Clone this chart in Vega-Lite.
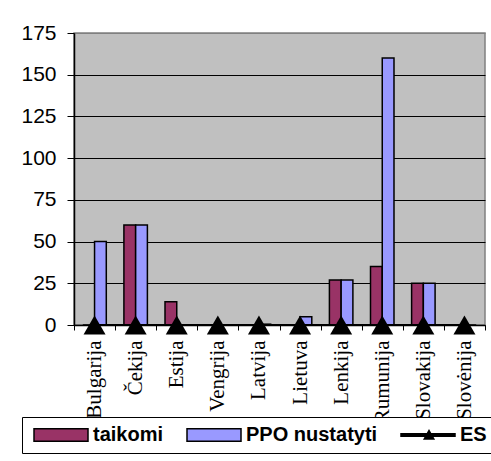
{
  "$schema": "https://vega.github.io/schema/vega-lite/v6.json",
  "width": 411,
  "height": 292,
  "autosize": "none",
  "padding": {"left": 74, "top": 33, "right": 6, "bottom": 136},
  "background": "white",
  "config": {
    "view": {"fill": "#C0C0C0", "stroke": "#808080", "strokeWidth": 1.5},
    "legend": {
      "orient": "none",
      "legendX": -52,
      "legendY": 384,
      "direction": "horizontal",
      "fillColor": "white",
      "strokeColor": "black",
      "padding": 8,
      "columnPadding": 19,
      "labelFont": "Liberation Sans",
      "labelFontSize": 20,
      "labelFontWeight": "bold",
      "labelColor": "black",
      "labelOffset": 43,
      "symbolSize": 256,
      "symbolStrokeWidth": 1.5,
      "symbolOpacity": 1
    }
  },
  "datasets": {
    "bars": [
      {"country": "Bulgarija", "series": "taikomi", "value": 0},
      {"country": "Bulgarija", "series": "PPO nustatyti", "value": 50},
      {"country": "Čekija", "series": "taikomi", "value": 60},
      {"country": "Čekija", "series": "PPO nustatyti", "value": 60},
      {"country": "Estija", "series": "taikomi", "value": 14},
      {"country": "Estija", "series": "PPO nustatyti", "value": 0},
      {"country": "Vengrija", "series": "taikomi", "value": 0},
      {"country": "Vengrija", "series": "PPO nustatyti", "value": 0},
      {"country": "Latvija", "series": "taikomi", "value": 0},
      {"country": "Latvija", "series": "PPO nustatyti", "value": 0.5},
      {"country": "Lietuva", "series": "taikomi", "value": 0},
      {"country": "Lietuva", "series": "PPO nustatyti", "value": 5},
      {"country": "Lenkija", "series": "taikomi", "value": 27},
      {"country": "Lenkija", "series": "PPO nustatyti", "value": 27},
      {"country": "Rumunija", "series": "taikomi", "value": 35},
      {"country": "Rumunija", "series": "PPO nustatyti", "value": 160},
      {"country": "Slovakija", "series": "taikomi", "value": 25},
      {"country": "Slovakija", "series": "PPO nustatyti", "value": 25},
      {"country": "Slovėnija", "series": "taikomi", "value": 0},
      {"country": "Slovėnija", "series": "PPO nustatyti", "value": 0}
    ],
    "es": [
      {"country": "Bulgarija", "series": "ES", "value": 0},
      {"country": "Čekija", "series": "ES", "value": 0},
      {"country": "Estija", "series": "ES", "value": 0},
      {"country": "Vengrija", "series": "ES", "value": 0},
      {"country": "Latvija", "series": "ES", "value": 0},
      {"country": "Lietuva", "series": "ES", "value": 0},
      {"country": "Lenkija", "series": "ES", "value": 0},
      {"country": "Rumunija", "series": "ES", "value": 0},
      {"country": "Slovakija", "series": "ES", "value": 0},
      {"country": "Slovėnija", "series": "ES", "value": 0}
    ]
  },
  "encoding": {
    "x": {
      "field": "country",
      "type": "nominal",
      "sort": ["Bulgarija", "Čekija", "Estija", "Vengrija", "Latvija", "Lietuva", "Lenkija", "Rumunija", "Slovakija", "Slovėnija"],
      "scale": {"paddingInner": 0, "paddingOuter": 0},
      "axis": {
        "title": null,
        "labelAngle": -90,
        "labelFont": "Liberation Serif",
        "labelFontSize": 21,
        "labelColor": "black",
        "tickBand": "extent",
        "tickSize": 5,
        "tickColor": "black",
        "tickWidth": 1,
        "domainColor": "black",
        "domainWidth": 1.5,
        "labelPadding": 10,
        "labelOverlap": false
      }
    },
    "y": {
      "field": "value",
      "type": "quantitative",
      "scale": {"domain": [0, 175], "nice": false},
      "axis": {
        "title": null,
        "values": [0, 25, 50, 75, 100, 125, 150, 175],
        "grid": true,
        "gridColor": {"condition": {"test": "datum.value === 175", "value": "#808080"}, "value": "black"},
        "gridWidth": 1,
        "gridOpacity": 1,
        "tickSize": 7,
        "tickColor": "black",
        "domainColor": "black",
        "domainWidth": 1.5,
        "labelFont": "Liberation Sans",
        "labelFontSize": 21,
        "labelColor": "black",
        "labelPadding": 11
      }
    },
    "color": {
      "field": "series",
      "type": "nominal",
      "title": null,
      "scale": {"domain": ["taikomi", "PPO nustatyti", "ES"], "range": ["#993366", "#9999FF", "#000000"]},
      "legend": {
        "title": null,
        "symbolType": {"expr": "datum.value === 'ES' ? 'M-0.75,-0.16H6V0.16H-0.75ZM2.15,0.5L2.75,-0.55L3.35,0.5Z' : 'M-0.75,-0.78H6V0.78H-0.75Z'"}
      }
    },
    "stroke": {
      "field": "series",
      "type": "nominal",
      "title": null,
      "scale": {"domain": ["taikomi", "PPO nustatyti", "ES"], "range": ["#000000", "#000000", "#000000"]},
      "legend": {
        "title": null,
        "symbolType": {"expr": "datum.value === 'ES' ? 'M-0.75,-0.16H6V0.16H-0.75ZM2.15,0.5L2.75,-0.55L3.35,0.5Z' : 'M-0.75,-0.78H6V0.78H-0.75Z'"}
      }
    }
  },
  "layer": [
    {
      "data": {"name": "bars"},
      "mark": {"type": "bar", "strokeWidth": 1.5},
      "encoding": {
        "xOffset": {
          "field": "series",
          "sort": ["taikomi", "PPO nustatyti"],
          "scale": {"paddingOuter": 0.75, "paddingInner": 0}
        }
      }
    },
    {
      "data": {"name": "es"},
      "mark": {"type": "line", "strokeWidth": 2}
    },
    {
      "data": {"name": "es"},
      "mark": {"type": "point", "shape": "triangle-up", "size": 484, "filled": true, "opacity": 1, "strokeWidth": 0}
    }
  ]
}
